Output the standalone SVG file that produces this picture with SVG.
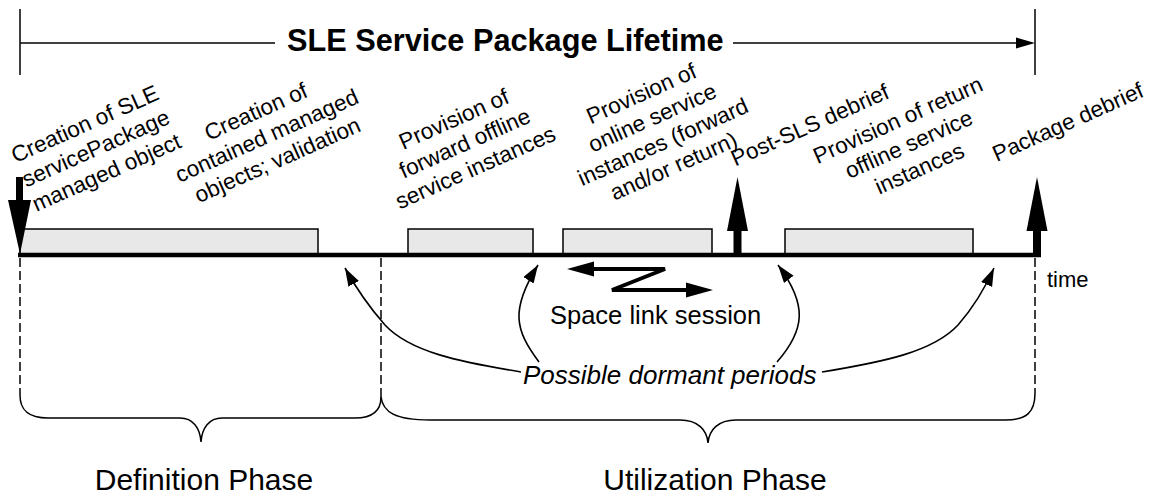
<svg xmlns="http://www.w3.org/2000/svg" width="1152" height="497" viewBox="0 0 1152 497">
<style>
text{font-family:"Liberation Sans",Arial,sans-serif;fill:#000}
.lbl{font-size:22.5px;text-anchor:middle}
.thin{stroke:#000;stroke-width:1.5;fill:none}
.dash{stroke:#000;stroke-width:1.5;fill:none;stroke-dasharray:9 4}
.box{fill:#e8e8e8;stroke:#000;stroke-width:1.5}
.curve{stroke:#000;stroke-width:1.6;fill:none;marker-end:url(#ah)}
</style>
<defs>
<marker id="ah" markerUnits="userSpaceOnUse" markerWidth="20" markerHeight="14" refX="18" refY="6" orient="auto">
<path d="M0,0 L18,6 L0,12 Z" fill="#000"/>
</marker>
</defs>
<rect width="1152" height="497" fill="#fff"/>
<g id="title">
<line class="thin" x1="20" y1="9" x2="20" y2="75"/>
<line class="thin" x1="1035" y1="9" x2="1035" y2="75"/>
<line class="thin" x1="20" y1="43" x2="275" y2="43"/>
<line class="thin" x1="733" y1="43" x2="1020" y2="43"/>
<polygon points="1016,37.5 1035,43 1016,48.5" fill="#000"/>
<text x="287" y="51" style="font-size:30.7px;font-weight:bold">SLE Service Package Lifetime</text>
</g>
<g id="timeline">
<rect class="box" x="20" y="229" width="298" height="26"/>
<rect class="box" x="408" y="229" width="125" height="26"/>
<rect class="box" x="563" y="229" width="149" height="26"/>
<rect class="box" x="785" y="229" width="188" height="26"/>
<line x1="18" y1="255" x2="1041" y2="255" stroke="#000" stroke-width="4.5"/>
<text x="1047" y="287" style="font-size:22px">time</text>
</g>
<g id="event-create">
<rect x="16" y="177" width="7" height="24" fill="#000"/>
<polygon points="8,200 31,200 20,254" fill="#000"/>
</g>
<g id="event-postsls">
<rect x="733.5" y="229" width="8" height="26" fill="#000"/>
<polygon points="727,231 748,231 737.5,177" fill="#000"/>
</g>
<g id="event-pkgdebrief">
<rect x="1033" y="229" width="8" height="26" fill="#000"/>
<polygon points="1026.5,231 1047.5,231 1037,177" fill="#000"/>
</g>
<g id="labels">
<g transform="translate(88,131) rotate(-24)"><text class="lbl" x="0" y="0">Creation of SLE</text><text class="lbl" x="0" y="26.5">servicePackage</text><text class="lbl" x="0" y="53">managed object</text></g>
<g transform="translate(259,118.5) rotate(-24)"><text class="lbl" x="0" y="0">Creation of</text><text class="lbl" x="0" y="26.5">contained managed</text><text class="lbl" x="0" y="53">objects; validation</text></g>
<g transform="translate(457,126) rotate(-24)"><text class="lbl" x="0" y="0">Provision of</text><text class="lbl" x="0" y="26.5">forward offline</text><text class="lbl" x="0" y="53">service instances</text></g>
<g transform="translate(644.5,100.5) rotate(-24)"><text class="lbl" x="0" y="0">Provision of</text><text class="lbl" x="0" y="26.5">online service</text><text class="lbl" x="0" y="53">instances (forward</text><text class="lbl" x="0" y="79.5">and/or return)</text></g>
<g transform="translate(813,132) rotate(-24)"><text class="lbl" x="0" y="0">Post-SLS debrief</text></g>
<g transform="translate(901,127) rotate(-24)"><text class="lbl" x="0" y="0">Provision of return</text><text class="lbl" x="0" y="26.5">offline service</text><text class="lbl" x="0" y="53">instances</text></g>
<g transform="translate(1071,129) rotate(-24)"><text class="lbl" x="0" y="0">Package debrief</text></g>
</g>
<g id="session">
<polyline points="590,269 665,269 612,290 690,290" stroke="#000" stroke-width="4" fill="none" stroke-linejoin="miter"/>
<polygon points="567,269 594,261.5 594,276.5" fill="#000"/>
<polygon points="713,290 686,282.5 686,297.5" fill="#000"/>
<text x="550" y="324" style="font-size:25.5px">Space link session</text>
</g>
<g id="dormant">
<text x="523" y="384" style="font-size:26px;font-style:italic">Possible dormant periods</text>
</g>
<g id="connectors">
<path class="curve" d="M521,372 C460,362 410,352 385,325 C370,308 356,288 345,268"/>
<path class="curve" d="M539,362 C515,330 510,310 538,265"/>
<path class="curve" d="M777,362 C805,330 808,305 778,265"/>
<path class="curve" d="M822,372 C883,362 933,352 958,325 C973,308 985,288 994,268"/>
</g>
<g id="phases">
<line class="dash" x1="20" y1="258" x2="20" y2="395"/>
<line class="dash" x1="381" y1="258" x2="381" y2="397"/>
<line class="dash" x1="1035" y1="258" x2="1035" y2="393"/>
<path class="thin" d="M20,395 C20,410 28,418 48,418 L180,418 C193,418 200,428 201,442 C202,428 209,418 222,418 L355,418 C374,418 381,410 381,397"/>
<path class="thin" d="M381,397 C383,412 395,420 430,420 L680,420 C698,420 707,430 708,443 C709,430 718,420 736,420 L1005,420 C1027,420 1035,412 1035,393"/>
<text x="204" y="490" style="font-size:30px;text-anchor:middle">Definition Phase</text>
<text x="715" y="490" style="font-size:30px;text-anchor:middle">Utilization Phase</text>
</g>
</svg>
